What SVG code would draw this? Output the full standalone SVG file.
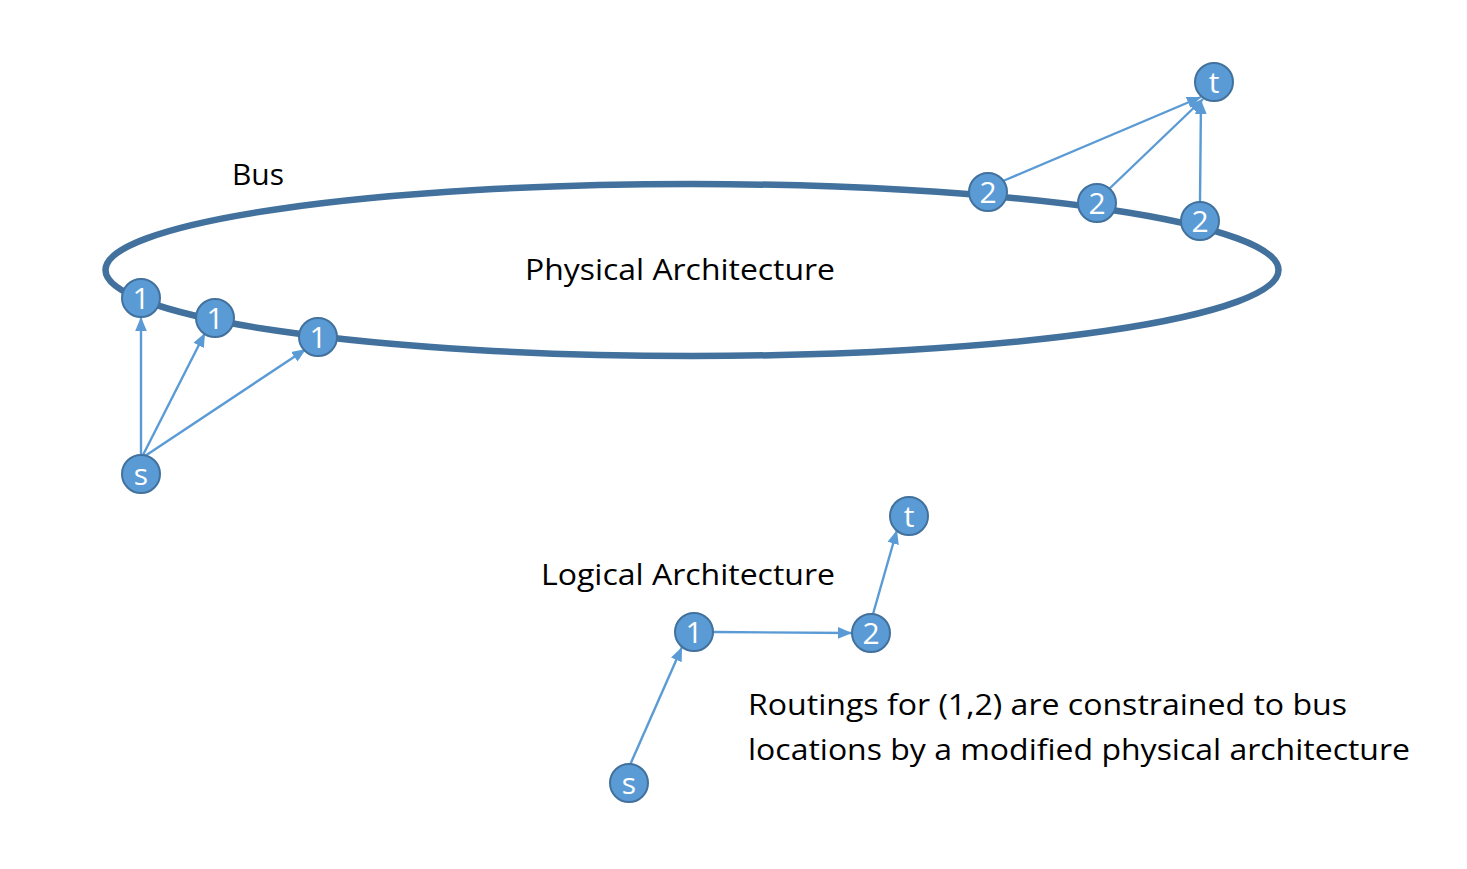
<svg xmlns="http://www.w3.org/2000/svg" width="1467" height="869" viewBox="0 0 1467 869">
<style>
.bg{fill:#ffffff}
.bus{fill:none;stroke:#41719c;stroke-width:6.5}
.node circle{fill:#5b9bd5;stroke:#41719c;stroke-width:2}
.node text{fill:#ffffff;font-family:"Open Sans","Noto Sans",sans-serif;font-size:30px;text-anchor:middle}
.edge{stroke:#5b9bd5;stroke-width:2.4;fill:none;marker-end:url(#arr)}
.lbl{fill:#000000;font-family:"Open Sans","Noto Sans",sans-serif;font-size:29px}
</style>
<defs>
<marker id="arr" markerUnits="userSpaceOnUse" markerWidth="14" markerHeight="12" refX="12" refY="5" orient="auto" viewBox="0 0 12 10">
<path d="M0,0 L12,5 L0,10 z" fill="#5b9bd5"/>
</marker>
</defs>
<rect class="bg" x="0" y="0" width="1467" height="869"/>
<g id="bus">
<ellipse class="bus" cx="692" cy="270" rx="586.5" ry="86"/>
</g>
<g id="labels">
<text class="lbl" x="232" y="185" textLength="52" lengthAdjust="spacingAndGlyphs">Bus</text>
<text class="lbl" x="525" y="280" textLength="310" lengthAdjust="spacingAndGlyphs">Physical Architecture</text>
<text class="lbl" x="541" y="585" textLength="294" lengthAdjust="spacingAndGlyphs">Logical Architecture</text>
<text class="lbl" x="748" y="715" textLength="599" lengthAdjust="spacingAndGlyphs">Routings for (1,2) are constrained to bus</text>
<text class="lbl" x="748" y="760" textLength="662" lengthAdjust="spacingAndGlyphs">locations by a modified physical architecture</text>
</g>
<g id="connectors">
<line class="edge" x1="141" y1="455" x2="141" y2="317"/>
<line class="edge" x1="143" y1="455" x2="205" y2="333"/>
<line class="edge" x1="145" y1="456" x2="306" y2="349"/>
<line class="edge" x1="1003" y1="181" x2="1201" y2="97"/>
<line class="edge" x1="1108" y1="190" x2="1203" y2="99"/>
<line class="edge" x1="1200" y1="201" x2="1201" y2="100"/>
<line class="edge" x1="630" y1="765" x2="682" y2="647"/>
<line class="edge" x1="713" y1="632" x2="852" y2="633"/>
<line class="edge" x1="873" y1="614" x2="897" y2="530"/>
</g>
<g id="phys_s" class="node"><circle cx="141" cy="474" r="19"/><text x="141" y="485">s</text></g>
<g id="phys_1a" class="node"><circle cx="141" cy="298" r="19"/><text x="141" y="309">1</text></g>
<g id="phys_1b" class="node"><circle cx="215" cy="318" r="19"/><text x="215" y="329">1</text></g>
<g id="phys_1c" class="node"><circle cx="318" cy="337" r="19"/><text x="318" y="348">1</text></g>
<g id="phys_2a" class="node"><circle cx="988" cy="192" r="19"/><text x="988" y="203">2</text></g>
<g id="phys_2b" class="node"><circle cx="1097" cy="203" r="19"/><text x="1097" y="214">2</text></g>
<g id="phys_2c" class="node"><circle cx="1200" cy="221" r="19"/><text x="1200" y="232">2</text></g>
<g id="phys_t" class="node"><circle cx="1214" cy="82" r="19"/><text x="1214" y="93">t</text></g>
<g id="log_s" class="node"><circle cx="629" cy="783" r="19"/><text x="629" y="794">s</text></g>
<g id="log_1" class="node"><circle cx="694" cy="632" r="19"/><text x="694" y="643">1</text></g>
<g id="log_2" class="node"><circle cx="871" cy="633" r="19"/><text x="871" y="644">2</text></g>
<g id="log_t" class="node"><circle cx="909" cy="516" r="19"/><text x="909" y="527">t</text></g>
</svg>
